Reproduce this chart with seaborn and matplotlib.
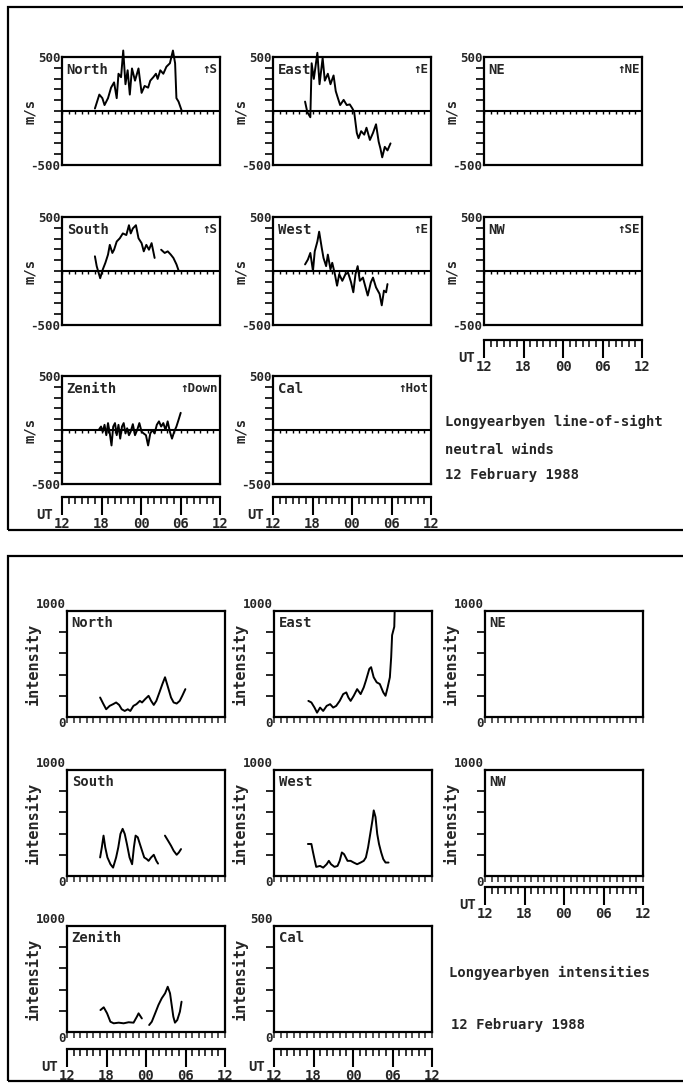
import numpy as np
import pandas as pd
import matplotlib
matplotlib.use("Agg")
import matplotlib.pyplot as plt
import seaborn as sns
from matplotlib.patches import Rectangle

# ---------------- data ----------------
# hours after 12 UT (0..24); np.nan marks a gap in the record
north_wind_h = [5.0, 5.67, 6.13, 6.46, 6.99, 7.45, 7.91, 8.31, 8.58, 8.97, 9.3, 9.64, 9.97, 10.3,
                10.63, 11.09, 11.62, 12.09, 12.55, 13.08, 13.41, 13.87, 14.27, 14.53, 14.93, 15.39,
                15.86, 16.39, 16.85, 17.18, 17.38, 17.7, 18.2]
north_wind_v = [23, 152, 119, 55, 119, 216, 265, 119, 345, 313, 560, 248, 377, 152,
                394, 281, 394, 168, 232, 216, 281, 313, 345, 297, 377, 345,
                410, 442, 560, 442, 119, 87, 0]

east_wind_h = [4.87, 5.21, 5.67, 5.87, 6.2, 6.74, 7.07, 7.54, 7.87, 8.33, 8.73, 9.2, 9.53, 9.86,
               10.2, 10.73, 11.2, 11.66, 12.06, 12.33, 12.73, 12.99, 13.39, 13.86, 14.2, 14.72,
               15.19, 15.65, 16.05, 16.32, 16.59, 16.98, 17.39, 17.85]
east_wind_v = [87, -10, -58, 442, 297, 539, 248, 490, 281, 345, 248, 329, 184, 119,
               55, 103, 55, 61, 23, -10, -203, -252, -187, -219, -155, -268,
               -203, -123, -284, -348, -429, -332, -365, -300]

south_wind_h = [5.0, 5.27, 5.8, 6.2, 6.59, 6.99, 7.26, 7.65, 7.91, 8.31, 8.78, 9.24, 9.77, 10.17,
                10.44, 10.76, 11.23, 11.62, 12.09, 12.42, 12.81, 13.21, 13.61, 14.07, 14.5,
                15.06, 15.6, 16.06, 16.52, 16.92, 17.39, 17.7]
south_wind_v = [136, 45, -67, 15, 76, 152, 242, 167, 197, 273, 303, 348, 333, 424,
                348, 394, 424, 303, 258, 182, 242, 197, 258, 121, np.nan,
                197, 167, 182, 152, 121, 61, 6]

west_wind_h = [4.87, 5.3, 5.67, 6.07, 6.34, 6.74, 7.01, 7.41, 7.67, 8.07, 8.33, 8.73, 9.0, 9.4,
               9.73, 10.06, 10.53, 11.0, 11.4, 11.86, 12.2, 12.53, 12.86, 13.19, 13.66, 14.06,
               14.39, 14.86, 15.19, 15.65, 16.19, 16.52, 16.85, 17.18, 17.39]
west_wind_v = [61, 106, 167, 0, 182, 273, 364, 212, 121, 45, 152, 15, 76, -30,
               -136, -30, -91, -30, -15, -106, -197, -30, 45, -91, -61, -152,
               -227, -106, -61, -152, -212, -318, -182, -197, -121]

zenith_wind_h = [5.67, 5.93, 6.2, 6.46, 6.73, 6.99, 7.26, 7.52, 7.78, 8.05, 8.31, 8.58, 8.84, 9.11,
                 9.37, 9.64, 9.9, 10.17, 10.43, 10.76, 11.09, 11.42, 11.75, 12.09, 12.41, 12.75,
                 13.08, 13.41, 13.73, 14.07, 14.4, 14.73, 15.06, 15.39, 15.72, 16.05, 16.39,
                 16.71, 17.04, 17.38, 17.71, 18.03]
zenith_wind_v = [10, 32, -16, 48, -48, 64, -32, -143, 32, 64, -48, 48, -80, 32,
                 64, -32, 16, -48, -16, 54, -48, 0, 64, -16, -32, -48,
                 -143, -32, 0, -32, 48, 80, 32, 64, 0, 80, -16,
                 -80, -16, 32, 95, 159]

north_int_h = [5.03, 5.49, 5.95, 6.48, 7.0, 7.46, 7.92, 8.31, 8.77, 9.23, 9.62, 10.09, 10.55, 11.07,
               11.4, 11.86, 12.39, 12.78, 13.18, 13.57, 14.04, 14.49, 14.89, 15.35, 15.8, 16.2,
               16.66, 17.12, 17.51, 17.98]
north_int_v = [184, 127, 73, 105, 121, 137, 114, 73, 57, 73, 57, 105, 121, 152,
               137, 168, 200, 152, 114, 152, 232, 311, 375, 279, 184, 137,
               127, 152, 200, 263]

east_int_h = [5.22, 5.68, 6.15, 6.54, 7.0, 7.47, 8.0, 8.53, 8.99, 9.45, 9.98, 10.51, 10.98, 11.3,
              11.64, 12.11, 12.63, 13.16, 13.63, 13.96, 14.48, 14.75, 15.14, 15.6, 16.07, 16.6,
              16.94, 17.26, 17.6, 17.8, 17.94, 18.27, 18.33]
east_int_v = [152, 137, 89, 41, 89, 57, 105, 121, 89, 105, 152, 216, 232, 184,
              152, 200, 263, 216, 279, 343, 454, 470, 375, 327, 311, 232,
              200, 279, 375, 565, 772, 851, 1000]

south_int_h = [5.03, 5.29, 5.55, 5.81, 6.14, 6.6, 7.0, 7.46, 7.79, 8.12, 8.45, 8.77, 9.1, 9.5,
               9.89, 10.16, 10.42, 10.75, 11.07, 11.4, 11.73, 12.12, 12.39, 12.78, 13.18, 13.57,
               13.83, 14.4, 14.88, 15.35, 15.8, 16.2, 16.66, 16.99, 17.32]
south_int_v = [175, 270, 381, 270, 175, 111, 79, 175, 270, 397, 445, 397, 302, 175,
               111, 270, 381, 365, 302, 238, 175, 159, 143, 175, 200, 143,
               117, np.nan, 381, 333, 286, 238, 200, 222, 254]

west_int_h = [5.15, 5.68, 5.88, 6.15, 6.41, 7.0, 7.47, 8.0, 8.33, 8.66, 9.19, 9.65, 9.98, 10.31,
              10.64, 11.17, 11.64, 12.1, 12.63, 13.16, 13.63, 13.96, 14.29, 14.62, 14.95, 15.15,
              15.42, 15.68, 15.95, 16.28, 16.6, 16.94, 17.4]
west_int_v = [302, 302, 238, 159, 86, 95, 79, 111, 143, 111, 86, 95, 143, 222,
              206, 143, 143, 127, 111, 127, 143, 175, 270, 397, 524, 619,
              556, 397, 302, 222, 159, 127, 127]

zenith_int_h = [5.08, 5.58, 6.09, 6.59, 7.09, 7.85, 8.6, 9.36, 10.11, 10.62, 10.87, 11.37, 11.9,
                12.48, 12.88, 13.39, 13.89, 14.39, 14.9, 15.3, 15.65, 15.9, 16.15, 16.4, 16.75,
                17.15, 17.4]
zenith_int_v = [207, 233, 176, 97, 82, 88, 82, 92, 88, 145, 176, 128, np.nan,
                66, 97, 176, 255, 318, 365, 427, 365, 255, 145, 88, 113,
                192, 286]

wind_names = ["North", "East", "NE", "South", "West", "NW", "Zenith", "Cal"]
wind_arrows = ["\u2191S", "\u2191E", "\u2191NE", "\u2191S", "\u2191E", "\u2191SE", "\u2191Down", "\u2191Hot"]
wind_h = [north_wind_h, east_wind_h, [], south_wind_h, west_wind_h, [], zenith_wind_h, []]
wind_v = [north_wind_v, east_wind_v, [], south_wind_v, west_wind_v, [], zenith_wind_v, []]
wind_lim = [-500, 500]
wind_tick_labels = ["-500", "500"]

int_names = ["North", "East", "NE", "South", "West", "NW", "Zenith", "Cal"]
int_h = [north_int_h, east_int_h, [], south_int_h, west_int_h, [], zenith_int_h, []]
int_v = [north_int_v, east_int_v, [], south_int_v, west_int_v, [], zenith_int_v, []]
int_max = [1000, 1000, 1000, 1000, 1000, 1000, 1000, 500]

ut_positions = [0, 6, 12, 18, 24]
ut_labels = ["12", "18", "00", "06", "12"]

title_wind = ["Longyearbyen line-of-sight", "neutral winds", "12 February 1988"]
title_int = ["Longyearbyen intensities", "12 February 1988"]

# ---------------- style ----------------
sns.set_style("white")
plt.rcParams["font.family"] = ["DejaVu Sans Mono", "DejaVu Sans"]
plt.rcParams["font.weight"] = "bold"

W, H = 683, 1084
fig = plt.figure(figsize=(W / 100, H / 100), dpi=100)
fig.patch.set_facecolor("white")


def px_axes(x, y, w, h):
    ax = fig.add_axes([x / W, 1 - (y + h) / H, w / W, h / H])
    ax.set_facecolor("none")
    return ax


def frame_of(hrs, vals):
    rows, seg = [], 0
    for h, v in zip(hrs, vals):
        if v is None or (isinstance(v, float) and np.isnan(v)):
            seg += 1
            continue
        rows.append((h, v, seg))
    return pd.DataFrame(rows, columns=["h", "v", "seg"])


def draw_trace(ax, hrs, vals):
    if len(hrs) == 0:
        return
    df = frame_of(hrs, vals)
    sns.lineplot(data=df, x="h", y="v", units="seg", estimator=None, color="black",
                 linewidth=1.4, ax=ax, legend=False)
    for ln in ax.lines:
        ln.set_clip_on(False)
    ax.set_xlabel("")


def style_box(ax):
    for s in ax.spines.values():
        s.set_visible(True)
        s.set_color("black")
        s.set_linewidth(1.6)


def ut_axis(x, y_line):
    ax = px_axes(x, y_line, 158, 14)
    ax.set_xlim(0, 24)
    ax.set_ylim(0, 1)
    for s in ["left", "right", "bottom"]:
        ax.spines[s].set_visible(False)
    ax.spines["top"].set_visible(True)
    ax.spines["top"].set_color("black")
    ax.spines["top"].set_linewidth(1.6)
    ax.set_yticks([])
    ax.set_xticks(ut_positions)
    ax.set_xticklabels(ut_labels, fontsize=10, fontweight="bold")
    ax.set_xticks(range(25), minor=True)
    ax.tick_params(axis="x", which="both", top=True, bottom=False, labelbottom=True,
                   labeltop=False, direction="in", color="black")
    ax.tick_params(axis="x", which="major", length=13, width=1.5, pad=4)
    ax.tick_params(axis="x", which="minor", length=5, width=1.1)
    ax.text(-0.055, -0.3, "UT", transform=ax.transAxes, ha="right", va="center",
            fontsize=10, fontweight="bold")
    return ax


# ---------------- frames ----------------
fig.add_artist(Rectangle((8 / W, 1 - 530 / H), (W + 10) / W, (530 - 7) / H,
                         transform=fig.transFigure, fill=False, lw=1.6, ec="black"))
fig.add_artist(Rectangle((8 / W, 1 - 1081 / H), (W + 10) / W, (1081 - 556) / H,
                         transform=fig.transFigure, fill=False, lw=1.6, ec="black"))

# ---------------- wind panels ----------------
wind_cols = [62, 273, 484]
wind_rows = [57, 217, 376]
for i, name in enumerate(wind_names):
    r, c = divmod(i, 3)
    ax = px_axes(wind_cols[c], wind_rows[r], 158, 108)
    ax.axhline(0, color="black", lw=1.5)
    ax.vlines(range(25), -24, 0, color="black", lw=1.0)
    draw_trace(ax, wind_h[i], wind_v[i])
    ax.set_xlim(0, 24)
    ax.set_ylim(*wind_lim)
    style_box(ax)
    ax.set_xticks([])
    ax.set_yticks(wind_lim)
    ax.set_yticklabels(wind_tick_labels, fontsize=9, fontweight="bold")
    ax.set_yticks(range(-400, 401, 100), minor=True)
    ax.tick_params(axis="y", which="major", length=0, pad=1, left=True)
    ax.tick_params(axis="y", which="minor", length=6, width=1.4, direction="out", left=True)
    ax.set_ylabel("m/s", fontsize=10, fontweight="bold")
    ax.yaxis.set_label_coords(-25 / 158, 0.5)
    ax.text(0.03, 0.94, name, transform=ax.transAxes, ha="left", va="top",
            fontsize=10, fontweight="bold")
    ax.text(0.985, 0.94, wind_arrows[i], transform=ax.transAxes, ha="right", va="top",
            fontsize=9, fontweight="bold")

ut_axis(62, 497)
ut_axis(273, 497)
ut_axis(484, 340)

for k, (txt, yy) in enumerate(zip(title_wind, [422, 450, 475])):
    fig.text(445 / W, 1 - yy / H, txt, ha="left", va="center", fontsize=10, fontweight="bold")

# ---------------- intensity panels ----------------
int_cols = [67, 274, 485]
int_rows = [611, 770, 926]
for i, name in enumerate(int_names):
    r, c = divmod(i, 3)
    ax = px_axes(int_cols[c], int_rows[r], 158, 106)
    draw_trace(ax, int_h[i], int_v[i])
    ymax = int_max[i]
    ax.set_xlim(0, 24)
    ax.set_ylim(0, ymax)
    style_box(ax)
    ax.set_xticks([])
    ax.set_xticks(range(25), minor=True)
    ax.tick_params(axis="x", which="minor", bottom=True, length=4, width=1.1, direction="out")
    ax.set_yticks([0, ymax])
    ax.set_yticklabels(["0", str(ymax)], fontsize=9, fontweight="bold")
    labs = ax.get_yticklabels()
    labs[0].set_va("top")
    labs[1].set_va("bottom")
    ax.set_yticks(np.arange(ymax / 5, ymax, ymax / 5), minor=True)
    ax.tick_params(axis="y", which="major", length=0, pad=1, left=True)
    ax.tick_params(axis="y", which="minor", length=6, width=1.4, direction="out", left=True)
    ax.set_ylabel("intensity", fontsize=11, fontweight="bold")
    ax.yaxis.set_label_coords(-26 / 158, 0.5)
    ax.text(0.03, 0.95, name, transform=ax.transAxes, ha="left", va="top",
            fontsize=10, fontweight="bold")

ut_axis(67, 1049)
ut_axis(274, 1049)
ut_axis(485, 887)

fig.text(449 / W, 1 - 973 / H, title_int[0], ha="left", va="center", fontsize=10, fontweight="bold")
fig.text(451 / W, 1 - 1025 / H, title_int[1], ha="left", va="center", fontsize=10, fontweight="bold")

fig.savefig("out.png", dpi=100, facecolor="white")
